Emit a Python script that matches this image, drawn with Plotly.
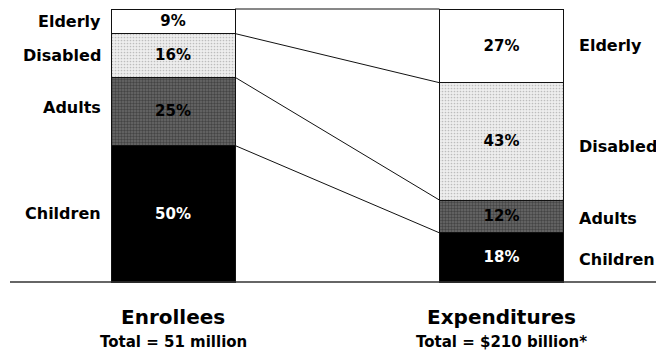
import plotly.graph_objects as go

# ---- data ----
groups = ["Enrollees", "Expenditures"]
group_totals = ["Total = 51 million", "Total = $210 billion*"]
categories = ["Children", "Adults", "Disabled", "Elderly"]  # bottom to top
enrollees = [50, 25, 16, 9]
expenditures = [18, 12, 43, 27]

# ---- styles ----
FONT = "DejaVu Sans"
fills = {
    "Children": dict(color="#000000", pattern=None),
    "Adults": dict(color="#4e4e4e", pattern=dict(shape=".", fgcolor="#1e1e1e", bgcolor="#6a6a6a", size=3, solidity=0.5)),
    "Disabled": dict(color="#dcdcdc", pattern=dict(shape=".", fgcolor="#8c8c8c", bgcolor="#eeeeee", size=3, solidity=0.25)),
    "Elderly": dict(color="#ffffff", pattern=None),
}
text_colors = {"Children": "white", "Adults": "black", "Disabled": "black", "Elderly": "black"}
left_shift = {"Children": 0, "Adults": 4, "Disabled": 0, "Elderly": 0}
right_shift = {"Children": -2, "Adults": -2, "Disabled": -5, "Elderly": 0}

BAR_W = 0.3775
xs = [0, 1]

fig = go.Figure()
for i, cat in enumerate(categories):
    vals = [enrollees[i], expenditures[i]]
    f = fills[cat]
    marker = dict(color=f["color"], line=dict(color="#111111", width=1))
    if f["pattern"]:
        marker["pattern"] = f["pattern"]
    fig.add_trace(go.Bar(
        x=xs, y=vals, width=BAR_W, name=cat, marker=marker,
        text=[f"{v}%" for v in vals], textposition="inside",
        insidetextanchor="middle", textangle=0,
        textfont=dict(family=FONT, size=15, color=text_colors[cat], weight="bold"),
        constraintext="none", hoverinfo="skip",
    ))

# connecting lines between boundaries
def cums(vals):
    out, s = [], 0
    for v in vals:
        s += v
        out.append(s)
    return out

cl, cr = cums(enrollees), cums(expenditures)
for a, b in zip(cl, cr):
    fig.add_trace(go.Scatter(
        x=[xs[0] + BAR_W / 2, xs[1] - BAR_W / 2], y=[a, b], mode="lines",
        line=dict(color="#111111", width=1), hoverinfo="skip", showlegend=False,
    ))

# category labels
ann = []
for i, cat in enumerate(categories):
    yl = cl[i] - enrollees[i] / 2
    yr = cr[i] - expenditures[i] / 2
    ann.append(dict(x=xs[0] - BAR_W / 2, y=yl, xref="x", yref="y", text=cat,
                    showarrow=False, xanchor="right", xshift=-8, yshift=left_shift[cat],
                    font=dict(family=FONT, size=16, color="black", weight="bold")))
    ann.append(dict(x=xs[1] + BAR_W / 2, y=yr, xref="x", yref="y", text=cat,
                    showarrow=False, xanchor="left", xshift=13, yshift=right_shift[cat],
                    font=dict(family=FONT, size=16, color="black", weight="bold")))

for j, g in enumerate(groups):
    ann.append(dict(x=xs[j], y=-12.8, xref="x", yref="y", text=g, showarrow=False,
                    xanchor="center", yanchor="middle",
                    font=dict(family=FONT, size=20, color="black", weight="bold")))
    ann.append(dict(x=xs[j], y=-22, xref="x", yref="y", text=group_totals[j], showarrow=False,
                    xanchor="center", yanchor="middle",
                    font=dict(family=FONT, size=15, color="black", weight="bold")))

# baseline
fig.add_shape(type="line", xref="paper", yref="y", x0=10 / 656, x1=1, y0=0, y1=0,
              line=dict(color="#333333", width=1.5))

fig.update_layout(
    barmode="stack",
    width=656, height=354,
    margin=dict(l=0, r=0, t=0, b=0),
    paper_bgcolor="white", plot_bgcolor="white",
    showlegend=False,
    annotations=ann,
    xaxis=dict(range=[-173 / 328.5, (656 - 173) / 328.5], visible=False, fixedrange=True),
    yaxis=dict(range=[-72 / 2.73, 282 / 2.73], visible=False, fixedrange=True),
    uniformtext=dict(mode=False),
)

fig.write_html("out.html")
